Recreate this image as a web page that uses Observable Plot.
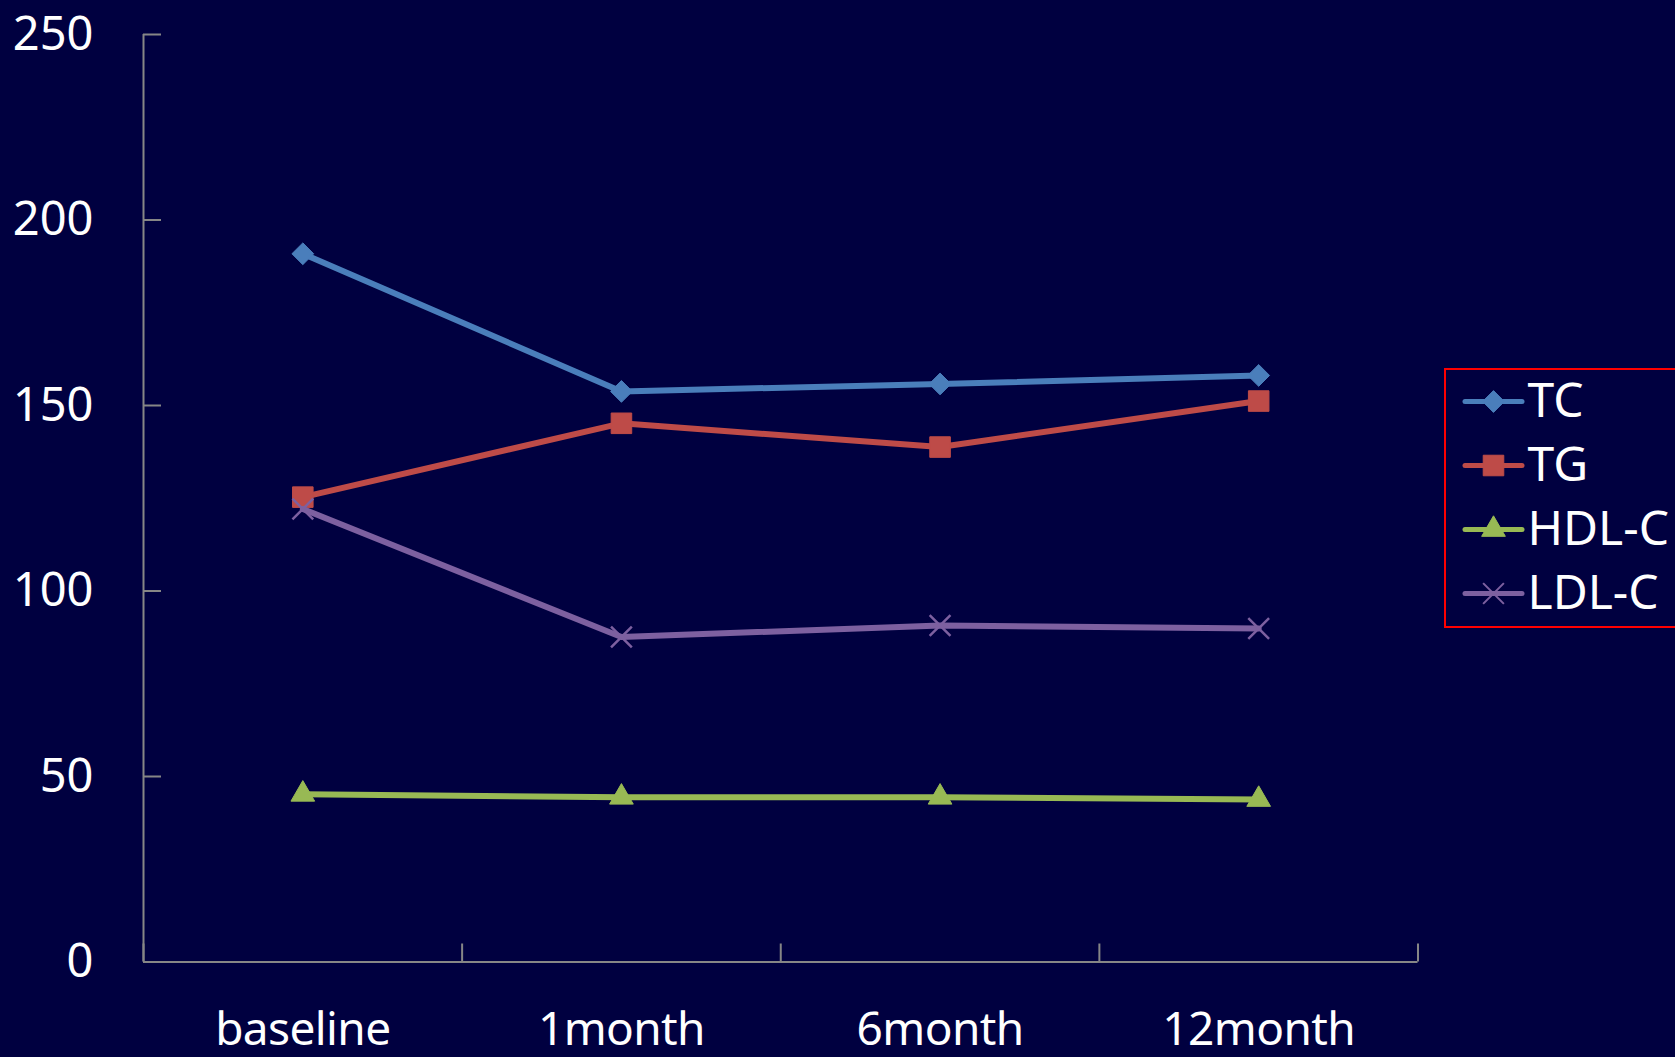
<!DOCTYPE html>
<html><head><meta charset="utf-8">
<script src="https://cdn.jsdelivr.net/npm/d3@7"></script>
<script src="https://cdn.jsdelivr.net/npm/@observablehq/plot@0.6"></script>
<style>
html,body{margin:0;padding:0;background:#000040;overflow:hidden;}
#wrap{position:relative;width:1675px;height:1057px;overflow:hidden;}
#wrap svg{display:block;}
#legendBox{position:absolute;left:1444px;top:368px;width:300px;height:260px;border:2px solid #ff0000;box-sizing:border-box;}
#legend{position:absolute;left:1445px;top:369px;}
</style></head><body><div id="wrap"><div id="legendBox"></div><div id="legend"></div></div>
<script>
const categories = ["baseline", "1month", "6month", "12month"];
const seriesNames = ["TC", "TG", "HDL-C", "LDL-C"];
const tcValues  = [190.9, 153.8, 155.8, 158.1];
const tgValues  = [125.3, 145.2, 138.8, 151.2];
const hdlValues = [45.2, 44.4, 44.4, 43.8];
const ldlValues = [122.1, 87.6, 90.7, 89.9];
const yTicks = [0, 50, 100, 150, 200, 250];

const seriesValues = [tcValues, tgValues, hdlValues, ldlValues];
const seriesColors = ["#4a7ebb", "#be4b48", "#98b954", "#7d60a0"];
const seriesSymbols = ["diamond2", "square", "triangle", "times"];
const symbolR = [9.8, 11.6, 8.8, 9.5];

const rows = [];
seriesNames.forEach((s, si) => {
  categories.forEach((c, ci) => rows.push({series: s, category: c, pos: ci + 0.5, value: seriesValues[si][ci]}));
});

const W = 1675, H = 1057;
const mL = 143, mR = 257.5, mT = 34, mB = 95.5;
const plotW = W - mL - mR, plotH = H - mT - mB;
const axisColor = "#868686";
const font = "'Noto Sans', sans-serif";

const seriesMarks = [];
seriesNames.forEach((s, si) => {
  const data = rows.filter(r => r.series === s);
  seriesMarks.push(Plot.line(data, {x: "pos", y: "value", stroke: seriesColors[si], strokeWidth: 6, strokeLinecap: "round", strokeLinejoin: "round"}));
  const isStroke = seriesSymbols[si] === "times";
  seriesMarks.push(Plot.dot(data, {x: "pos", y: "value", symbol: seriesSymbols[si], r: symbolR[si],
    fill: isStroke ? "none" : seriesColors[si], stroke: seriesColors[si], strokeWidth: isStroke ? 2.5 : 1}));
});

const chart = Plot.plot({
  width: W, height: H,
  marginLeft: mL, marginRight: mR, marginTop: mT, marginBottom: mB,
  style: {background: "#000040", color: "white", fontFamily: font, fontSize: "48px", overflow: "visible"},
  x: {domain: [0, categories.length], axis: null},
  y: {domain: [0, 250], axis: null},
  marks: [
    Plot.axisY(yTicks, {tickSize: 0, tickPadding: 50, fontSize: 47, label: null, fill: "white"}),
    Plot.axisX(categories.map((c, i) => i + 0.5), {tickSize: 0, tickPadding: 50, fontSize: 46, label: null, fill: "white",
      tickFormat: v => categories[Math.floor(v)]}),
    Plot.tickY(yTicks, {y: d => d, stroke: axisColor, strokeWidth: 2, insetRight: plotW - 18}),
    Plot.tickX(d3.range(categories.length + 1), {x: d => d, stroke: axisColor, strokeWidth: 2, insetTop: plotH - 18}),
    Plot.ruleX([0], {stroke: axisColor, strokeWidth: 2}),
    Plot.ruleY([0], {stroke: axisColor, strokeWidth: 2}),
    ...seriesMarks
  ]
});
chart.querySelectorAll("g[aria-label='x-axis tick label'] text").forEach(t => t.setAttribute("letter-spacing", "-0.6"));
document.getElementById("wrap").prepend(chart);

// Legend
const legendMarks = [
  Plot.tickY(seriesNames, {y: d => d, stroke: d => seriesColors[seriesNames.indexOf(d)], strokeWidth: 5, strokeLinecap: "round", insetLeft: 20, insetRight: 230 - 77})
];
seriesNames.forEach((s, si) => {
  const isStroke = seriesSymbols[si] === "times";
  legendMarks.push(Plot.dot([s], {y: d => d, frameAnchor: "left", dx: 48, symbol: seriesSymbols[si], r: symbolR[si],
    fill: isStroke ? "none" : seriesColors[si], stroke: seriesColors[si], strokeWidth: isStroke ? 2 : 1}));
});
legendMarks.push(Plot.text(seriesNames, {y: d => d, text: d => d, frameAnchor: "left", dx: 82, textAnchor: "start", fill: "white", fontSize: 48}));

const legend = Plot.plot({
  width: 230, height: 256,
  margin: 0,
  style: {background: "transparent", color: "white", fontFamily: font, fontSize: "48px", overflow: "visible"},
  x: {axis: null},
  y: {type: "point", domain: seriesNames, axis: null, padding: 0.5},
  color: {type: "identity"},
  marks: legendMarks
});
document.getElementById("legend").appendChild(legend);
</script>
</body></html>
